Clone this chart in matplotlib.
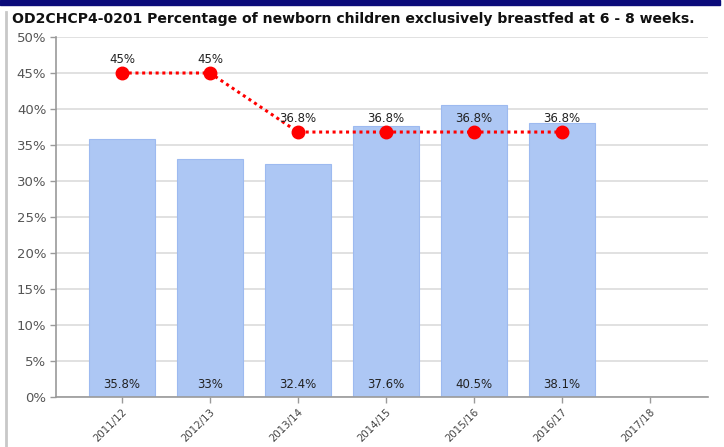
import matplotlib

matplotlib.use("Agg")
import matplotlib.pyplot as plt
from matplotlib.patches import Rectangle
from matplotlib.lines import Line2D

# data
YEARS = ["2011/12", "2012/13", "2013/14", "2014/15", "2015/16", "2016/17", "2017/18"]
ACTUAL = [35.8, 33.0, 32.4, 37.6, 40.5, 38.1]
ACTUAL_LABELS = ["35.8%", "33%", "32.4%", "37.6%", "40.5%", "38.1%"]
TARGET = [45.0, 45.0, 36.8, 36.8, 36.8, 36.8]
TARGET_LABELS = ["45%", "45%", "36.8%", "36.8%", "36.8%", "36.8%"]

BAR_FC = "#adc7f4"
BAR_EC = "#9dbaf0"
GRID = "#dcdcdc"
AXIS = "#9a9a9a"

plt.rcParams.update({"font.family": "DejaVu Sans"})

fig = plt.figure(figsize=(7.24, 4.47), dpi=100)
ax = fig.add_axes([56 / 724, 1 - 397 / 447, (708 - 56) / 724, (397 - 37) / 447])

xs = list(range(len(YEARS)))
ax.bar(xs[:len(ACTUAL)], ACTUAL, width=0.75, color=BAR_FC, edgecolor=BAR_EC,
       linewidth=0.8, zorder=2)
for x, lab in zip(xs, ACTUAL_LABELS):
    ax.text(x, 0.9, lab, ha="center", va="bottom", fontsize=8.5, color="#222", zorder=4)

ax.plot(xs[:len(TARGET)], TARGET, color="#ff0000", ls=(0, (1, 1.2)), lw=2.2,
        marker="o", ms=9, zorder=5)
for x, y, lab in zip(xs, TARGET, TARGET_LABELS):
    ax.annotate(lab, (x, y), xytext=(0, 5), textcoords="offset points",
                ha="center", va="bottom", fontsize=8.5, color="#222", zorder=6)

ax.set_ylim(0, 50)
ax.set_xlim(-0.75, 6.66)
ax.set_yticks(range(0, 51, 5))
ax.set_yticklabels([f"{v}%" for v in range(0, 51, 5)], fontsize=9.5, color="#555")
ax.set_xticks(xs)
ax.set_xticklabels(YEARS, rotation=45, ha="right", rotation_mode="anchor",
                   fontsize=7.4, color="#444")
ax.tick_params(axis="both", length=4, color=AXIS, width=1)
ax.tick_params(axis="y", pad=3)
ax.tick_params(axis="x", pad=3)
ax.yaxis.grid(True, color=GRID, lw=1.2, zorder=0)
ax.set_axisbelow(True)
for s in ("top", "right"):
    ax.spines[s].set_visible(False)
for s in ("left", "bottom"):
    ax.spines[s].set_color(AXIS)
    ax.spines[s].set_linewidth(1.2)

# frame decoration: navy bar on top, grey rule on the left
fig.patches.append(Rectangle((0, 1 - 5 / 447), 720 / 724, 5 / 447, transform=fig.transFigure,
                             color="#0b0b7a", zorder=10))
fig.lines.append(Line2D([6 / 724, 6 / 724], [0, 1 - 12 / 447], transform=fig.transFigure,
                        color="#c8c8c8", lw=2))

fig.text(12 / 724, 1 - 19 / 447, "OD2CHCP4-0201 Percentage of newborn children exclusively "
         "breastfed at 6 - 8 weeks.", fontsize=10.1, fontweight="bold", ha="left",
         va="center", color="#111")

fig.savefig("out.png", dpi=100)
